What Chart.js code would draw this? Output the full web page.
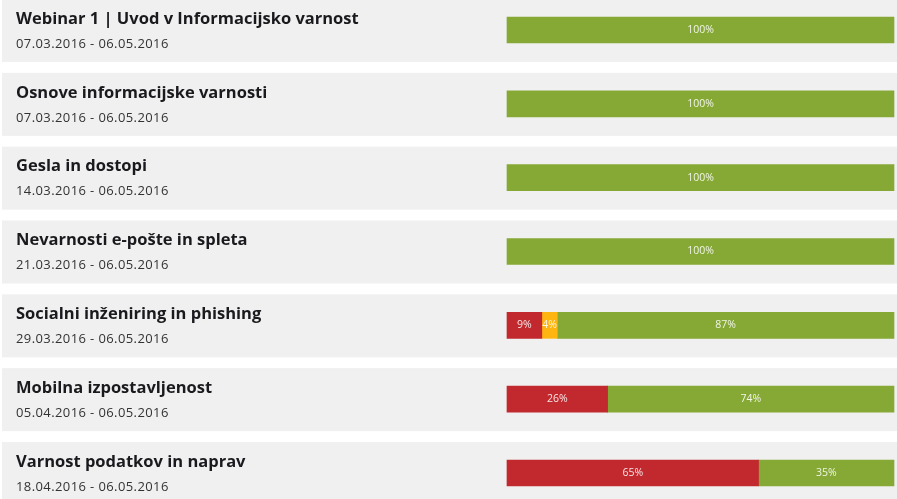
<!DOCTYPE html>
<html>
<head>
<meta charset="utf-8">
<script src="https://cdn.jsdelivr.net/npm/chart.js@4.4.1/dist/chart.umd.min.js"></script>
<style>
  body { margin: 0; background: #fff; }
  canvas { display: block; }
</style>
</head>
<body>
<canvas id="myChart" width="897" height="499"></canvas>
<script>
var courses = [
  "Webinar 1 | Uvod v Informacijsko varnost",
  "Osnove informacijske varnosti",
  "Gesla in dostopi",
  "Nevarnosti e-pošte in spleta",
  "Socialni inženiring in phishing",
  "Mobilna izpostavljenost",
  "Varnost podatkov in naprav"
];
var dates = [
  "07.03.2016 - 06.05.2016",
  "07.03.2016 - 06.05.2016",
  "14.03.2016 - 06.05.2016",
  "21.03.2016 - 06.05.2016",
  "29.03.2016 - 06.05.2016",
  "05.04.2016 - 06.05.2016",
  "18.04.2016 - 06.05.2016"
];
var failed = [0, 0, 0, 0, 9, 26, 65];
var pending = [0, 0, 0, 0, 4, 0, 0];
var passed = [100, 100, 100, 100, 87, 74, 35];

// empty segments should not leave a sliver
function noZero(arr) {
  return arr.map(function(v) { return v > 0 ? v : null; });
}

// grey row panels + course name and dates
var rowPlugin = {
  id: 'rows',
  beforeDraw: function(chart) {
    var ctx = chart.ctx;
    var y = chart.scales.y;
    ctx.save();
    for (var i = 0; i < courses.length; i++) {
      var cy = y.getPixelForValue(i);
      ctx.fillStyle = "#f0f0f0";
      ctx.fillRect(2, cy - 31, 895, 63);
      ctx.textBaseline = "middle";
      ctx.textAlign = "left";
      ctx.fillStyle = "#1a1a1e";
      ctx.font = "bold 16.5px 'Open Sans'";
      ctx.letterSpacing = "0px";
      ctx.fillText(courses[i], 16, cy - 11);
      ctx.fillStyle = "#333";
      ctx.font = "13px 'Open Sans'";
      ctx.letterSpacing = "0.4px";
      ctx.fillText(dates[i], 16, cy + 14);
    }
    ctx.letterSpacing = "0px";
    ctx.restore();
  },
  afterDatasetsDraw: function(chart) {
    var ctx = chart.ctx;
    ctx.save();
    ctx.font = "10.5px 'Open Sans'";
    ctx.textAlign = "center";
    ctx.textBaseline = "middle";
    ctx.fillStyle = "rgba(255,255,255,0.88)";
    chart.data.datasets.forEach(function(ds, d) {
      chart.getDatasetMeta(d).data.forEach(function(bar, i) {
        if (ds.data[i] > 0) {
          var c = bar.getCenterPoint();
          ctx.fillText(ds.data[i] + "%", c.x, c.y);
        }
      });
    });
    ctx.restore();
  }
};

var ctx = document.getElementById("myChart");
var myChart = new Chart(ctx, {
  type: 'bar',
  data: {
    labels: courses,
    datasets: [
      { label: "failed", data: noZero(failed), backgroundColor: "#c1292e" },
      { label: "pending", data: noZero(pending), backgroundColor: "#ffb511" },
      { label: "passed", data: noZero(passed), backgroundColor: "#85a934" }
    ]
  },
  options: {
    indexAxis: 'y',
    responsive: false,
    animation: false,
    barThickness: 26,
    clip: false,
    layout: {
      padding: { left: 507, right: 3, top: 30, bottom: 26 }
    },
    scales: {
      x: { stacked: true, min: 0, max: 100, display: false },
      y: { stacked: true, display: false, offset: false }
    },
    plugins: {
      legend: { display: false },
      tooltip: { enabled: false }
    }
  },
  plugins: [rowPlugin]
});
</script>
</body>
</html>
